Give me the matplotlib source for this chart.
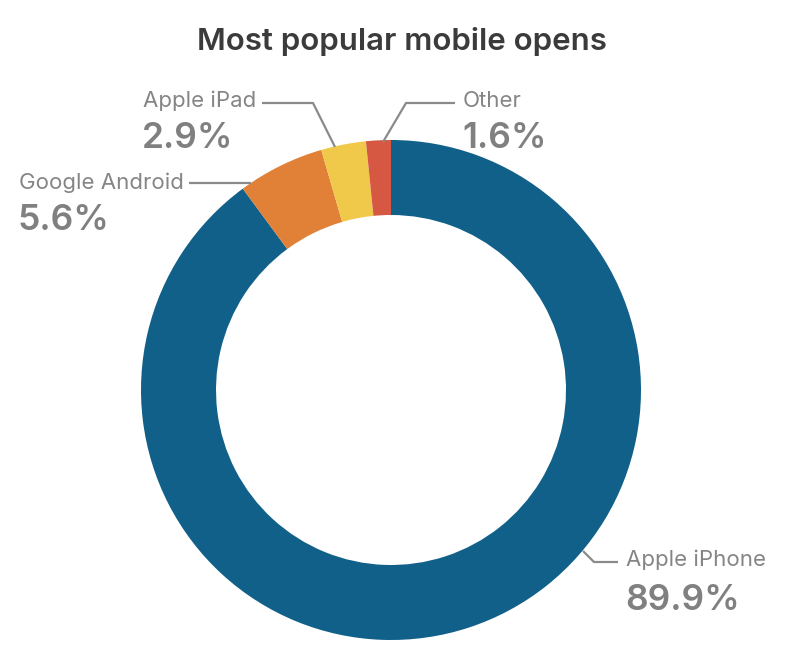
import numpy as np
import matplotlib
matplotlib.use("Agg")
import matplotlib.pyplot as plt

plt.rcParams['font.family'] = ['Inter', 'DejaVu Sans']

# data (clockwise from 12 o'clock)
labels = ["Apple iPhone", "Google Android", "Apple iPad", "Other"]
shares = [89.9, 5.6, 2.9, 1.6]
colors = ["#116089", "#e08137", "#f0c94b", "#d65842"]

# label placement (pixel coords, y down): text x, label y, pct y, leader path
label_x = [626, 19, 143, 463]
label_y = [560, 183, 101, 101]
pct_y = [600, 221, 139, 139]
leaders = [
   [(583, 551), (594, 562), (618, 562)],
   [(251, 183), (189, 183)],
   [(335, 147), (313, 103), (262, 103)],
   [(383, 142), (406, 103), (455, 103)],
]

W, H = 786, 651
fig = plt.figure(figsize=(W / 100, H / 100), dpi=100)
ax = fig.add_axes([0, 0, 1, 1])

cx, cy, R = 391, 390, 250
# y axis is flipped below, so start at -90 and go "counter" clockwise
ax.pie(shares, colors=colors, startangle=-90, counterclock=True,
       radius=R, center=(cx, cy),
       wedgeprops=dict(width=75, linewidth=0))

ax.set_xlim(0, W)
ax.set_ylim(H, 0)
ax.set_aspect('equal')
ax.axis('off')

for i in range(len(labels)):
   pts = np.array(leaders[i])
   ax.plot(pts[:, 0], pts[:, 1], color="#8a8a8a", lw=1.6, solid_capstyle='butt')
   ax.text(label_x[i], label_y[i], labels[i], fontsize=16, color="#858585",
           ha='left', va='center')
   ax.text(label_x[i] - 1, pct_y[i], "%.1f%%" % shares[i], fontsize=25.5,
           color="#808080", fontweight='semibold', ha='left', va='center')

ax.text(402, 42, "Most popular mobile opens", fontsize=22.5, color="#3b3b3b",
        fontweight='semibold', ha='center', va='center')

fig.savefig("out.png", dpi=100)
